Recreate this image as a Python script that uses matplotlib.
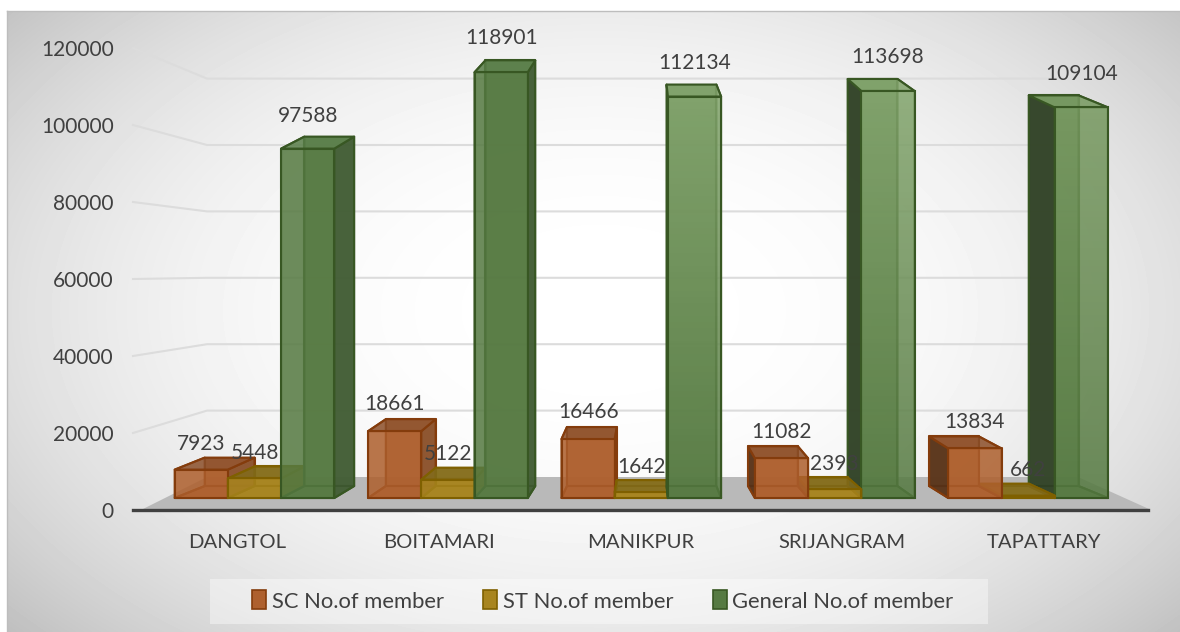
import numpy as np
import matplotlib
matplotlib.use('Agg')
import matplotlib.pyplot as plt
from matplotlib.patches import Patch, Rectangle
from matplotlib.colors import to_rgb, to_rgba

# Data
categories = ['DANGTOL', 'BOITAMARI', 'MANIKPUR', 'SRIJANGRAM', 'TAPATTARY']
sc_members = [7923, 18661, 16466, 11082, 13834]
st_members = [5448, 5122, 1642, 2393, 662]
general_members = [97588, 118901, 112134, 113698, 109104]
y_ticks = [0, 20000, 40000, 60000, 80000, 100000, 120000]

W, H = 1180, 632
TEXT = '#404040'
plt.rcParams['font.family'] = ['Lato', 'DejaVu Sans']
plt.rcParams['font.size'] = 15

fig = plt.figure(figsize=(W / 100, H / 100), dpi=100, facecolor='white')


def px_axes(x0, y_top, x1, y_bottom):
    # axes placed with pixel positions of the reference
    a = fig.add_axes([x0 / W, 1 - y_bottom / H, (x1 - x0) / W, (y_bottom - y_top) / H])
    return a


# Background with radial gradient
bg = px_axes(7, 11, W, H)
gx, gy = np.meshgrid(np.arange(7, W), np.arange(11, H))
t = np.sqrt(((gx - 600) / 680) ** 2 + ((gy - 310) / 420) ** 2)
shade = np.clip(255 - 45 * t ** 2.4, 0, 255) / 255
bg.imshow(shade, cmap='gray', vmin=0, vmax=1, aspect='auto', interpolation='bilinear')
for s in ['right', 'bottom']:
    bg.spines[s].set_visible(False)
for s in ['left', 'top']:
    bg.spines[s].set_color('#bdbdbd')
    bg.spines[s].set_linewidth(1)
bg.set_xticks([])
bg.set_yticks([])

# Floor and walls
wall = px_axes(0, 0, W, H)
wall.set_xlim(0, W)
wall.set_ylim(H, 0)
wall.axis('off')
wall.patch.set_alpha(0)
wall.fill([143, 207, 1078, 1149, 143], [509, 477, 477, 509, 509], color='#b9b9b9', lw=0)
for v in y_ticks[1:]:
    back_y = 477 - v * 66.4 / 20000
    tick_y = 510 - v * 462 / 120000
    wall.plot([133, 207, 1078], [tick_y, back_y, back_y], color='#dcdcdc', lw=1.5, zorder=1)

# Axis with the tick labels
ax_t = px_axes(133, 48, 1148, 510)
ax_t.patch.set_alpha(0)
ax_t.set_ylim(0, 120000)
ax_t.set_xlim((133 - 237) / 201.7, (1148 - 237) / 201.7)
ax_t.set_yticks(y_ticks)
ax_t.set_xticks(range(len(categories)))
ax_t.set_xticklabels(categories)
ax_t.tick_params(axis='y', length=0, pad=14, labelcolor=TEXT)
ax_t.tick_params(axis='x', length=0, pad=17, labelcolor=TEXT, labelsize=14.6)
for s in ['left', 'right', 'top']:
    ax_t.spines[s].set_visible(False)
ax_t.spines['bottom'].set_color('#404040')
ax_t.spines['bottom'].set_linewidth(2.4)

# Bars: x in category units, y in member counts
PITCH = 193.4
CENTER = 254.5
K = 3.58 / 1000  # pixels per member
ax = px_axes(0, 0, W, H)
ax.patch.set_alpha(0)
ax.axis('off')

BAR_W = 53.2 / PITCH
VANISH = (647 - CENTER) / PITCH
DEPTH_X = 0.0636
DEPTH_Y = 12 / K
ALPHA = 0.8

z = [10]


def next_z():
    z[0] += 1
    return z[0]


def back_x(x):
    return x + (VANISH - x) * DEPTH_X


def box(x0, value, face, edge, top, side_r, side_l, grad_top=None):
    x1 = x0 + BAR_W
    b0, b1 = back_x(x0), back_x(x1)
    d = DEPTH_Y
    lw = 1.5

    def quad(xs, ys, fc, alpha=ALPHA):
        # solid edges, see-through faces
        ax.fill(xs, ys, facecolor=to_rgba(fc, alpha), edgecolor=edge, lw=lw, zorder=next_z(), joinstyle='round')

    # back, floor, hidden side first
    quad([b0, b1, b1, b0], [d, d, value + d, value + d], face, 0.85)
    quad([x0, x1, b1, b0], [0, 0, d, d], face, 0.85)
    if b0 > x0:
        quad([x0, b0, b0, x0], [0, d, value + d, value], face, 0.3)
        quad([x1, b1, b1, x1], [0, d, value + d, value], side_r)
    else:
        quad([x1, b1, b1, x1], [0, d, value + d, value], face, 0.3)
        quad([x0, b0, b0, x0], [0, d, value + d, value], side_l, 0.85)
    quad([x0, x1, b1, b0], [value, value, value + d, value + d], top)
    # front face
    if grad_top is None:
        quad([x0, x1, x1, x0], [0, 0, value, value], face)
    else:
        low, high = np.array(to_rgb(face)), np.array(to_rgb(grad_top))
        frac = np.linspace(1, 0, 64)[:, None, None]
        img = low * (1 - frac) + high * frac
        ax.imshow(img, extent=[x0, x1, 0, value], aspect='auto', alpha=ALPHA, zorder=next_z())
        ax.add_patch(Rectangle((x0, 0), BAR_W, value, fill=False, edgecolor=edge, lw=lw, zorder=next_z()))


def value_label(x, value):
    ax.text(x + BAR_W / 2, value * 1.02 + 25.5 / K, str(value), ha='center', va='center',
            color=TEXT, zorder=1000)


SC = dict(face='#AE602E', edge='#843C0C', top='#8A4F2B', side_r='#85502C', side_l='#4F3019')
ST = dict(face='#A8851F', edge='#7F6000', top='#7F6A1C', side_r='#7F6A1C', side_l='#5E4D12')
GE = dict(face='#567A42', edge='#385723', top='#5A7F4A', side_r='#3F5833', side_l='#2E3D25')
green_tops = [None, None, '#86A870', '#86A870', '#7A9C63']

for i, cat in enumerate(categories):
    x_sc = i - 1.5 * BAR_W
    x_st = i - 0.5 * BAR_W
    x_ge = i + 0.5 * BAR_W
    gtop = green_tops[i]
    ge_style = dict(GE)
    if gtop:
        ge_style['top'] = gtop
    if i < 3:
        box(x_sc, sc_members[i], **SC)
        box(x_st, st_members[i], **ST)
        box(x_ge, general_members[i], grad_top=gtop, **ge_style)
    else:
        box(x_ge, general_members[i], grad_top=gtop, **ge_style)
        box(x_st, st_members[i], **ST)
        box(x_sc, sc_members[i], **SC)
    value_label(x_sc, sc_members[i])
    value_label(x_st, st_members[i])
    value_label(x_ge, general_members[i])

ax.set_xlim(-CENTER / PITCH, (W - CENTER) / PITCH)
ax.set_ylim(-(H - 498) / K, 498 / K)

# Legend
wall.add_patch(Rectangle((210, 579), 778, 45, facecolor='white', alpha=0.4, lw=0, zorder=2))
handles = [Patch(facecolor=SC['face'], edgecolor=SC['edge'], lw=1.2),
           Patch(facecolor=ST['face'], edgecolor=ST['edge'], lw=1.2),
           Patch(facecolor=GE['face'], edgecolor=GE['edge'], lw=1.2)]
fig.legend(handles, ['SC No.of member', 'ST No.of member', 'General No.of member'],
           loc='center', bbox_to_anchor=(603 / W, 1 - 601 / H), ncol=3, frameon=False,
           handlelength=0.64, handleheight=0.95, handletextpad=0.25, columnspacing=1.8,
           labelcolor=TEXT, fontsize=15.8)

plt.savefig('out.png', dpi=100)
